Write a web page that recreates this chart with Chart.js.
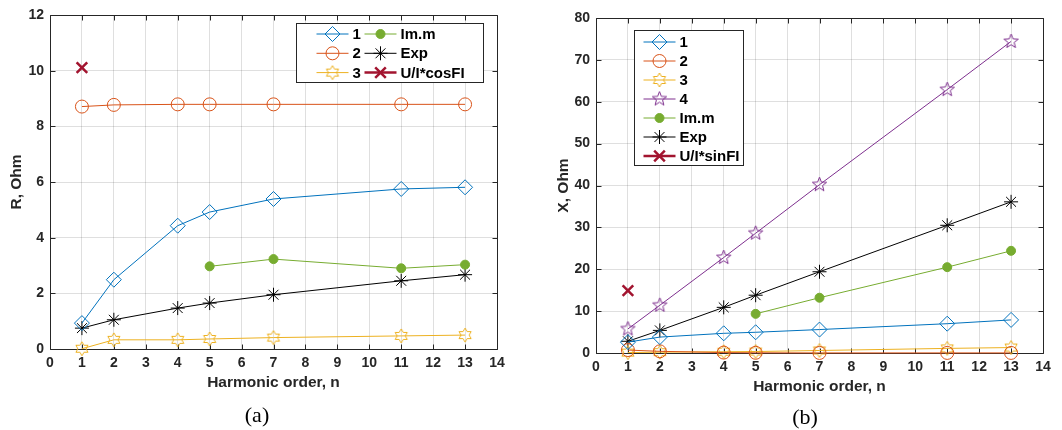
<!DOCTYPE html>
<html lang="en">
<head>
<meta charset="UTF-8">
<title>R and X vs harmonic order</title>
<script src="https://cdn.jsdelivr.net/npm/chart.js"></script>
<style>
  body { margin: 0; background: #fff; }
  .panel { position: absolute; top: 0; width: 531px; height: 430px; }
</style>
</head>
<body>
<div class="panel" style="left:0"><canvas id="chartR" width="531" height="430"></canvas></div>
<div class="panel" style="left:531px"><canvas id="chartX" width="531" height="430"></canvas></div>
<script>
// harmonic orders
var harmonics = [1, 2, 4, 5, 7, 11, 13];
var harmonicsImm = [5, 7, 11, 13];
var harmonicsUI = [1];

// (a) R, Ohm
var r1 = [0.93, 2.49, 4.43, 4.92, 5.39, 5.75, 5.81];
var r2 = [8.71, 8.77, 8.79, 8.79, 8.79, 8.79, 8.79];
var r3 = [0.01, 0.33, 0.33, 0.36, 0.41, 0.47, 0.5];
var rImm = [2.97, 3.23, 2.9, 3.03];
var rExp = [0.75, 1.05, 1.47, 1.65, 1.95, 2.45, 2.67];
var rUI = [10.11];

// (b) X, Ohm
var x1 = [2.6, 3.8, 4.7, 4.95, 5.6, 7.0, 7.9];
var x2 = [0.7, 0.4, 0.1, 0.05, 0.02, 0.02, 0.02];
var x3 = [0.1, 0.2, 0.3, 0.35, 0.6, 1.1, 1.3];
var x4 = [5.75, 11.4, 22.8, 28.6, 40.2, 62.9, 74.4];
var xImm = [9.35, 13.2, 20.5, 24.4];
var xExp = [2.8, 5.4, 10.9, 13.8, 19.4, 30.5, 36.1];
var xUI = [14.9];

var xTicks = [0, 14, 1];
var rTicks = [0, 12, 2];
var xOhmTicks = [0, 80, 10];

var BLUE = '#0072BD', ORANGE = '#D95319', YELLOW = '#EDB120', PURPLE = '#7E2F8E',
    GREEN = '#77AC30', RED = '#A2142F', AXIS = '#262626';
var FONT = '"Liberation Sans", Arial, sans-serif';

function pts(xs, ys) {
  return xs.map(function (x, i) { return { x: x, y: ys[i] }; });
}

// star shaped markers (matlab 'p' and 'h') as small canvases
function starMarker(n, outer, inner, color) {
  var size = Math.ceil(outer * 2 + 4);
  var c = document.createElement('canvas');
  c.width = size; c.height = size;
  var g = c.getContext('2d');
  g.strokeStyle = color;
  g.lineWidth = 1;
  g.beginPath();
  for (var i = 0; i < n * 2; i++) {
    var a = -Math.PI / 2 + i * Math.PI / n;
    var r = i % 2 ? inner : outer;
    var px = size / 2 + r * Math.cos(a), py = size / 2 + r * Math.sin(a);
    if (i === 0) g.moveTo(px, py); else g.lineTo(px, py);
  }
  g.closePath();
  g.stroke();
  return c;
}
var hexagram = starMarker(6, 7, 7 / Math.sqrt(3), YELLOW);
var pentagram = starMarker(5, 7.5, 3.2, PURPLE);

function series(label, data, color, style, radius, extra) {
  var d = {
    label: label,
    data: data,
    borderColor: color,
    backgroundColor: 'rgba(0,0,0,0)',
    borderWidth: 1,
    pointStyle: style,
    pointRadius: radius,
    pointBorderColor: color,
    pointBackgroundColor: 'rgba(0,0,0,0)',
    pointBorderWidth: 1,
    clip: false
  };
  for (var k in extra) d[k] = extra[k];
  return d;
}

var framePlugin = {
  id: 'frame',
  beforeDatasetsDraw: function (chart) {
    var ctx = chart.ctx, a = chart.chartArea;
    var xs = chart.scales.x, ys = chart.scales.y;
    var L = Math.round(a.left) + 0.5, R = Math.round(a.right) + 0.5;
    var T = Math.round(a.top) + 0.5, B = Math.round(a.bottom) + 0.5;
    ctx.save();
    ctx.strokeStyle = AXIS;
    ctx.lineWidth = 1;
    ctx.beginPath();
    ctx.rect(L, T, R - L, B - T);
    xs.ticks.forEach(function (t) {
      var p = Math.round(xs.getPixelForValue(t.value)) + 0.5;
      ctx.moveTo(p, B); ctx.lineTo(p, B - 5);
      ctx.moveTo(p, T); ctx.lineTo(p, T + 5);
    });
    ys.ticks.forEach(function (t) {
      var p = Math.round(ys.getPixelForValue(t.value)) + 0.5;
      ctx.moveTo(L, p); ctx.lineTo(L + 5, p);
      ctx.moveTo(R, p); ctx.lineTo(R - 5, p);
    });
    ctx.stroke();
    ctx.restore();
  },
  afterDraw: function (chart, args, opts) {
    var ctx = chart.ctx;
    ctx.save();
    ctx.fillStyle = '#000';
    ctx.font = '22px "Liberation Serif", "Times New Roman", serif';
    ctx.textAlign = 'center';
    ctx.textBaseline = 'middle';
    ctx.fillText(opts.caption, opts.capX, opts.capY);

    // legend box
    var lg = opts.legend;
    ctx.fillStyle = '#fff';
    ctx.fillRect(lg.x, lg.y, lg.w, lg.h);
    ctx.strokeStyle = AXIS;
    ctx.lineWidth = 1;
    ctx.strokeRect(lg.x, lg.y, lg.w, lg.h);
    ctx.font = 'bold 15px ' + FONT;
    ctx.textAlign = 'left';
    chart.data.datasets.forEach(function (ds, i) {
      var col = Math.floor(i / lg.rows), row = i % lg.rows;
      var x0 = lg.x + lg.colX[col], y = lg.y + lg.rowY0 + row * lg.rowStep;
      ctx.strokeStyle = ds.borderColor;
      ctx.lineWidth = ds.borderWidth;
      ctx.beginPath();
      ctx.moveTo(x0, y); ctx.lineTo(x0 + 32, y);
      ctx.stroke();
      ctx.fillStyle = ds.pointBackgroundColor;
      ctx.lineWidth = ds.pointBorderWidth;
      Chart.helpers.drawPoint(ctx, {
        pointStyle: ds.pointStyle, radius: ds.pointRadius, rotation: 0, borderWidth: ds.pointBorderWidth
      }, x0 + 16, y);
      ctx.fillStyle = '#000';
      ctx.fillText(ds.label, x0 + 36, y + 1);
    });
    ctx.restore();
  }
};

function makeChart(id, datasets, yTicks, yTitle, layout, frameOpts) {
  return new Chart(document.getElementById(id), {
    type: 'line',
    data: { datasets: datasets },
    plugins: [framePlugin],
    options: {
      responsive: false,
      animation: false,
      events: [],
      layout: { padding: layout.padding },
      plugins: { legend: { display: false }, tooltip: { enabled: false }, frame: frameOpts },
      scales: {
        x: {
          type: 'linear', min: xTicks[0], max: xTicks[1],
          afterFit: function (s) { s.height = layout.xHeight; },
          grid: { color: 'rgba(38,38,38,0.15)', drawTicks: false },
          border: { display: false },
          ticks: { stepSize: xTicks[2], padding: 6, color: AXIS, font: { family: FONT, size: 14, weight: 'bold' } },
          title: { display: true, text: 'Harmonic order, n', color: AXIS, padding: 0,
                   font: { family: FONT, size: 15.5, weight: 'bold' } }
        },
        y: {
          type: 'linear', min: yTicks[0], max: yTicks[1],
          afterFit: function (s) { s.width = layout.yWidth; },
          grid: { color: 'rgba(38,38,38,0.15)', drawTicks: false },
          border: { display: false },
          ticks: { stepSize: yTicks[2], padding: 6, color: AXIS, font: { family: FONT, size: 14, weight: 'bold' } },
          title: { display: true, text: yTitle, color: AXIS, padding: { top: layout.yTitlePad, bottom: 0 },
                   font: { family: FONT, size: 15.5, weight: 'bold' } }
        }
      }
    }
  });
}

makeChart('chartR', [
  series('1', pts(harmonics, r1), BLUE, 'rectRot', 7.5),
  series('2', pts(harmonics, r2), ORANGE, 'circle', 6.5),
  series('3', pts(harmonics, r3), YELLOW, hexagram, 7),
  series('Im.m', pts(harmonicsImm, rImm), GREEN, 'circle', 4.5, { pointBackgroundColor: GREEN }),
  series('Exp', pts(harmonics, rExp), '#000', 'star', 7),
  series('U/I*cosFI', pts(harmonicsUI, rUI), RED, 'crossRot', 7.5, { borderWidth: 2.5, pointBorderWidth: 2.5 })
], rTicks, 'R, Ohm',
  { padding: { left: 0, right: 34, top: 15, bottom: 38 }, xHeight: 43, yWidth: 50, yTitlePad: 7 },
  { caption: '(a)', capX: 257, capY: 416,
    legend: { x: 296.5, y: 23.5, w: 187, h: 59, rows: 3, colX: [20, 68], rowY0: 10.5, rowStep: 19.3 } });

makeChart('chartX', [
  series('1', pts(harmonics, x1), BLUE, 'rectRot', 7.5),
  series('2', pts(harmonics, x2), ORANGE, 'circle', 6.5),
  series('3', pts(harmonics, x3), YELLOW, hexagram, 7),
  series('4', pts(harmonics, x4), PURPLE, pentagram, 7.5),
  series('Im.m', pts(harmonicsImm, xImm), GREEN, 'circle', 4.5, { pointBackgroundColor: GREEN }),
  series('Exp', pts(harmonics, xExp), '#000', 'star', 7),
  series('U/I*sinFI', pts(harmonicsUI, xUI), RED, 'crossRot', 7.5, { borderWidth: 2.5, pointBorderWidth: 2.5 })
], xOhmTicks, 'X, Ohm',
  { padding: { left: 0, right: 19, top: 18, bottom: 34 }, xHeight: 43, yWidth: 65, yTitlePad: 23 },
  { caption: '(b)', capX: 274, capY: 418,
    legend: { x: 103.5, y: 30.5, w: 109, h: 135, rows: 7, colX: [9], rowY0: 11.5, rowStep: 19 } });
</script>
</body>
</html>
